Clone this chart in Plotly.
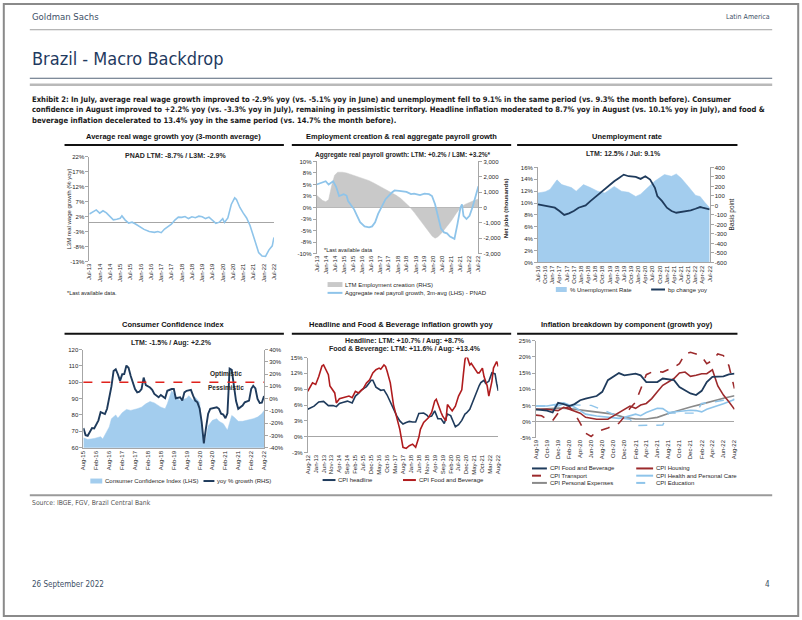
import plotly.graph_objects as go

W, H = 802, 620
CF = "Liberation Sans, Arial, Helvetica, sans-serif"
NF = "Liberation Sans Narrow, Arial Narrow, DejaVu Sans Condensed, sans-serif"

# ---------------- DATA ----------------
# Panel 1: average real wage growth (L3M, % yoy)
wage_dates = ["2013-07", "2013-09", "2013-11", "2014-01", "2014-03", "2014-05", "2014-07", "2014-09", "2014-11",
              "2015-01", "2015-02", "2015-04", "2015-06", "2015-08", "2015-10", "2015-12", "2016-03", "2016-06",
              "2016-09", "2016-11", "2017-01", "2017-03", "2017-05", "2017-07", "2017-09", "2017-11", "2018-01",
              "2018-03", "2018-05", "2018-07", "2018-09", "2018-11", "2019-01", "2019-03", "2019-05", "2019-07",
              "2019-09", "2019-11", "2020-01", "2020-02", "2020-04", "2020-06", "2020-08", "2020-09", "2020-11",
              "2021-01", "2021-03", "2021-05", "2021-07", "2021-09", "2021-10", "2021-12", "2022-02", "2022-04",
              "2022-06", "2022-07"]
wage_yoy = [2.8, 3.6, 4.2, 3.1, 3.9, 3.2, 2.0, 0.9, 1.1,
            1.4, 2.2, 0.8, -0.2, 0.1, -0.5, -1.3, -2.3, -3.0,
            -3.3, -3.0, -3.4, -2.2, -1.5, -0.6, 0.8, 1.8, 1.7,
            2.0, 1.3, 1.9, 1.6, 2.1, 1.9, 1.3, 1.8, 0.8,
            -0.3, 0.1, 1.3, 0.0, 1.5, 6.0, 8.2, 7.7, 5.0,
            3.1, 1.5, -1.0, -4.4, -7.9, -10.0, -11.2, -11.3, -9.2,
            -7.8, -5.0]
wage_tickvals = [-13, -8, -3, 2, 7, 12, 17, 22]
wage_ticktext = ["-13%", "-8%", "-3%", "2%", "7%", "12%", "17%", "22%"]

# Panel 2: employment creation (RHS, thousands) & aggregate real payroll growth (LHS, %)
jobs_dates = ["2013-07", "2013-09", "2013-11", "2014-01", "2014-03", "2014-05", "2014-07", "2014-09", "2014-12",
              "2015-03", "2015-06", "2015-09", "2015-12", "2016-03", "2016-06", "2016-09", "2016-12", "2017-03",
              "2017-06", "2017-09", "2017-12", "2018-03", "2018-06", "2018-09", "2018-12", "2019-03", "2019-06",
              "2019-09", "2019-12", "2020-02", "2020-04", "2020-07", "2020-10", "2021-01", "2021-04", "2021-07",
              "2021-10", "2022-01", "2022-04", "2022-07"]
jobs_ltm = [800, 600, 450, 380, 500, 1400, 2100, 2300, 2300,
            2250, 2150, 2080, 2000, 1900, 1750, 1600, 1450, 1300,
            1150, 950, 800, 600, 350, 50, -300, -700, -1100,
            -1500, -1850, -2000, -1900, -1600, -1250, -850, -400, 0,
            200, 350, 450, 550]
payroll_dates = ["2013-07", "2013-10", "2014-01", "2014-03", "2014-06", "2014-08", "2014-10", "2015-01", "2015-03",
                 "2015-04", "2015-06", "2015-08", "2015-10", "2015-12", "2016-03", "2016-06", "2016-08", "2016-10",
                 "2016-12", "2017-02", "2017-05", "2017-09", "2017-11", "2018-02", "2018-07", "2018-10", "2018-12",
                 "2019-04", "2019-07", "2019-10", "2019-12", "2020-02", "2020-04", "2020-06", "2020-08", "2020-10",
                 "2020-12", "2021-03", "2021-05", "2021-07", "2021-08", "2021-09", "2021-11", "2022-01", "2022-03",
                 "2022-05", "2022-07"]
payroll_growth = [5.0, 5.4, 5.7, 5.0, 5.7, 4.5, 2.5, 2.9, 2.6,
                  1.4, 0.5, -0.4, -1.8, -3.2, -4.1, -4.3, -4.1, -3.2,
                  -1.4, 0.0, 1.8, 3.2, 3.7, 3.6, 3.4, 2.9, 3.0,
                  2.7, 3.0, 2.9, 2.5, 0.7, -1.8, -4.6, -5.4, -5.6,
                  -6.3, -6.8, -3.6, 0.0, 0.7, -1.8, -2.5, -1.8, 0.0,
                  2.1, 4.6]
payroll_tickvals = [-10, -7.5, -5, -2.5, 0, 2.5, 5, 7.5, 10]
payroll_ticktext = ["-10%", "-8%", "-5%", "-3%", "0%", "3%", "5%", "8%", "10%"]
jobs_tickvals = [-3000, -2000, -1000, 0, 1000, 2000, 3000]
jobs_ticktext = ["-3,000", "-2,000", "-1,000", "0", "1,000", "2,000", "3,000"]

# Panel 3: unemployment rate (LHS, %) and bp change yoy (RHS)
unemp_dates = ["2016-07", "2016-10", "2016-12", "2017-03", "2017-05", "2017-07", "2017-09", "2017-11", "2018-02",
               "2018-05", "2018-08", "2018-11", "2019-03", "2019-06", "2019-09", "2019-12", "2020-02", "2020-05",
               "2020-08", "2020-12", "2021-03", "2021-05", "2021-07", "2021-10", "2022-01", "2022-02", "2022-03",
               "2022-05", "2022-07"]
unemp_rate = [11.7, 11.9, 12.3, 13.9, 13.1, 12.8, 12.6, 12.0, 13.1,
              12.6, 12.0, 11.7, 12.8, 12.0, 11.8, 11.1, 11.5, 12.6,
              13.7, 14.8, 14.5, 14.9, 14.2, 12.8, 11.3, 11.2, 11.1,
              10.1, 9.2]
bp_dates = ["2016-07", "2016-10", "2016-12", "2017-02", "2017-04", "2017-06", "2017-08", "2017-10", "2017-12",
            "2018-03", "2018-05", "2018-07", "2018-09", "2018-11", "2019-01", "2019-03", "2019-05", "2019-07",
            "2019-09", "2019-12", "2020-02", "2020-04", "2020-06", "2020-08", "2020-09", "2020-11", "2021-01",
            "2021-03", "2021-05", "2021-07", "2021-09", "2021-11", "2022-01", "2022-03", "2022-04", "2022-07"]
bp_change = [10, -7, -17, -24, -59, -100, -84, -59, -24,
             0, 45, 87, 132, 174, 220, 254, 289, 324,
             307, 300, 279, 307, 272, 185, 98, 45, -24,
             -59, -77, -70, -59, -52, -35, -17, -24, -42]
unemp_tickvals = [0, 2, 4, 6, 8, 10, 12, 14, 16]
unemp_ticktext = ["0%", "2%", "4%", "6%", "8%", "10%", "12%", "14%", "16%"]
bp_tickvals = [-600, -500, -400, -300, -200, -100, 0, 100, 200, 300, 400]
bp_ticktext = ["-600", "-500", "-400", "-300", "-200", "-100", "0", "100", "200", "300", "400"]

# Panel 4: consumer confidence index (LHS) and yoy % growth (RHS)
cc_idx_dates = ["2015-08", "2015-10", "2016-01", "2016-04", "2016-05", "2016-06", "2016-08", "2016-09", "2016-11",
                "2016-12", "2017-02", "2017-04", "2017-06", "2017-09", "2017-11", "2018-01", "2018-03", "2018-05",
                "2018-07", "2018-08", "2018-10", "2018-11", "2019-01", "2019-02", "2019-04", "2019-05", "2019-08",
                "2019-09", "2019-11", "2019-12", "2020-02", "2020-03", "2020-04", "2020-05", "2020-06", "2020-08",
                "2020-10", "2020-11", "2021-01", "2021-03", "2021-04", "2021-05", "2021-06", "2021-08", "2021-10",
                "2021-12", "2022-03", "2022-05", "2022-07", "2022-08"]
cc_idx = [66, 65, 65.6, 66.7, 65.3, 67.7, 72.7, 77.7, 80,
          78, 81.4, 83.4, 82.8, 83.8, 84.8, 86.8, 88.2, 87.4,
          85.8, 84.8, 83.8, 86.8, 94.8, 92.8, 89.8, 88.8, 90.2,
          91.8, 88.8, 90.8, 87.8, 75.7, 62, 65.6, 73.3, 76.7,
          77.7, 76.1, 74.7, 70.7, 75.7, 79.7, 78.7, 76.1, 76.1,
          76.7, 77.7, 78.7, 80.7, 82.8]
cc_yoy_dates = ["2015-08", "2015-09", "2015-10", "2015-11", "2015-12", "2016-01", "2016-03", "2016-04", "2016-05",
                "2016-06", "2016-07", "2016-08", "2016-09", "2016-10", "2016-11", "2016-12", "2017-01", "2017-02",
                "2017-03", "2017-04", "2017-05", "2017-06", "2017-08", "2017-09", "2017-10", "2017-11", "2017-12",
                "2018-01", "2018-03", "2018-04", "2018-05", "2018-07", "2018-08", "2018-10", "2018-11", "2019-01",
                "2019-02", "2019-03", "2019-05", "2019-06", "2019-07", "2019-08", "2019-10", "2019-11", "2019-12",
                "2020-01", "2020-02", "2020-03", "2020-04", "2020-05", "2020-06", "2020-07", "2020-08", "2020-10",
                "2020-11", "2020-12", "2021-01", "2021-02", "2021-03", "2021-04", "2021-05", "2021-06", "2021-07",
                "2021-08", "2021-09", "2021-10", "2021-11", "2021-12", "2022-01", "2022-02", "2022-03", "2022-04",
                "2022-05", "2022-06", "2022-07", "2022-08"]
cc_yoy = [-24, -29.8, -30.3, -27, -24, -24.4, -17.7, -11, -11.5,
          -12.6, -8.3, -0.3, 10, 22.5, 23.9, 19.9, 14.5, 19.9,
          20, 27, 25.2, 18.5, 7.8, 5.1, 5.6, 7.8, 17.2,
          11, 9.1, 7.2, 3.8, 1.1, 3, 0.3, 6.4, 7.8,
          7.8, 0.3, 1.1, -1.6, 5.1, 6.4, 7.2, 2.4, -1.6,
          -3, -8, -19, -36.5, -24, -12.3, -8.3, -8, -7,
          -8.3, -12.3, -13, -16, -12, 24.5, 23.5, 12, -2,
          -8.3, -7, -5.6, -3, -2.5, -1.6, 8, 10.5, 8.3,
          -0.3, -3.5, -3.3, 2.2]
confidence_threshold = 100
cc_tickvals = [60, 70, 80, 90, 100, 110, 120]
cc_ticktext = ["60", "70", "80", "90", "100", "110", "120"]
ccy_tickvals = [-40, -30, -20, -10, 0, 10, 20, 30, 40]
ccy_ticktext = ["-40%", "-30%", "-20%", "-10%", "0%", "10%", "20%", "30%", "40%"]

# Panel 5: CPI headline and CPI food & beverage (% yoy)
hl_dates = ["2012-08", "2012-10", "2012-12", "2013-03", "2013-06", "2013-09", "2013-12", "2014-02", "2014-04",
            "2014-06", "2014-09", "2014-12", "2015-02", "2015-04", "2015-06", "2015-09", "2015-12", "2016-01",
            "2016-03", "2016-06", "2016-08", "2016-10", "2016-12", "2017-02", "2017-04", "2017-06", "2017-08",
            "2017-10", "2017-12", "2018-02", "2018-04", "2018-06", "2018-09", "2018-11", "2018-12", "2019-02",
            "2019-04", "2019-06", "2019-08", "2019-10", "2019-12", "2020-02", "2020-04", "2020-05", "2020-07",
            "2020-09", "2020-11", "2020-12", "2021-02", "2021-04", "2021-06", "2021-08", "2021-09", "2021-11",
            "2021-12", "2022-02", "2022-04", "2022-06", "2022-07", "2022-08"]
hl_cpi = [5.2, 5.5, 5.8, 6.6, 6.7, 5.9, 5.9, 5.7, 6.3,
          6.5, 6.75, 6.4, 7.7, 8.2, 8.9, 9.5, 10.7, 10.7,
          9.4, 8.8, 8.9, 7.9, 6.5, 5.0, 4.0, 3.0, 2.4,
          2.7, 2.9, 2.8, 2.8, 4.4, 4.5, 4.1, 3.75, 3.9,
          4.9, 3.4, 3.4, 2.5, 4.3, 4.0, 2.4, 1.9, 2.3,
          3.1, 4.3, 4.5, 5.2, 6.8, 8.3, 9.7, 10.25, 10.7,
          10.1, 10.5, 12.1, 11.9, 10.1, 8.7]
fb_dates = ["2012-08", "2012-11", "2013-01", "2013-03", "2013-05", "2013-06", "2013-09", "2013-10", "2014-01",
            "2014-02", "2014-04", "2014-07", "2014-10", "2014-12", "2015-02", "2015-04", "2015-07", "2015-09",
            "2015-11", "2016-01", "2016-03", "2016-05", "2016-06", "2016-08", "2016-09", "2016-10", "2016-12",
            "2017-02", "2017-04", "2017-06", "2017-08", "2017-10", "2017-12", "2018-02", "2018-04", "2018-06",
            "2018-07", "2018-09", "2018-12", "2019-02", "2019-04", "2019-05", "2019-08", "2019-09", "2019-11",
            "2019-12", "2020-03", "2020-05", "2020-07", "2020-09", "2020-10", "2020-11", "2020-12", "2021-02",
            "2021-03", "2021-05", "2021-07", "2021-08", "2021-10", "2021-11", "2022-01", "2022-02", "2022-04",
            "2022-05", "2022-07", "2022-08"]
fb_cpi = [8.6, 10.2, 9.9, 11.4, 13.4, 13.6, 11.75, 9.6, 8.3,
          6.4, 7.2, 7.4, 7.7, 7.4, 8.6, 8.3, 9.1, 10.2,
          10.8, 12.1, 12.7, 13.0, 12.8, 13.6, 13.3, 12.4, 10.2,
          6.0, 3.5, 1.4, -2.0, -2.2, -1.7, -1.4, -2.0, -0.1,
          1.4, 2.7, 3.6, 4.6, 6.75, 7.1, 4.6, 3.9, 3.0,
          6.1, 4.9, 5.8, 7.7, 8.9, 11.75, 14.6, 15.5, 13.6,
          13.9, 13.0, 12.1, 12.1, 13.0, 11.4, 9.6, 7.7, 10.5,
          13.0, 14.25, 13.3]
cpi_tickvals = [-3, 0, 3, 6, 9, 12, 15]
cpi_ticktext = ["-3%", "0%", "3%", "6%", "9%", "12%", "15%"]

# Panel 6: inflation breakdown by component (% yoy)
fnb_dates = ["2019-08", "2019-10", "2019-11", "2019-12", "2020-01", "2020-02", "2020-03", "2020-04", "2020-05",
             "2020-07", "2020-08", "2020-09", "2020-11", "2020-12", "2021-02", "2021-03", "2021-04", "2021-06",
             "2021-07", "2021-09", "2021-10", "2021-12", "2022-01", "2022-02", "2022-03", "2022-04", "2022-06",
             "2022-07", "2022-08"]
fnb_vals = [3.8, 3.4, 2.8, 5.8, 5.4, 4.8, 5.4, 6.6, 7.1,
            7.9, 9.2, 12.8, 15.0, 14.3, 14.8, 14.3, 12.2, 12.2,
            13.3, 12.8, 10.7, 8.7, 8.2, 9.5, 12.2, 13.8, 14.0,
            14.6, 14.8]
hous_dates = ["2019-08", "2019-10", "2019-12", "2020-01", "2020-02", "2020-04", "2020-05", "2020-07", "2020-09",
              "2020-10", "2020-11", "2020-12", "2021-01", "2021-02", "2021-03", "2021-04", "2021-05", "2021-06",
              "2021-07", "2021-09", "2021-10", "2021-11", "2021-12", "2022-01", "2022-02", "2022-03", "2022-04",
              "2022-05", "2022-06", "2022-07", "2022-08"]
hous_vals = [3.8, 3.8, 3.4, 4.4, 3.8, 2.6, 1.3, 0.7, 0.7,
             1.7, 2.6, 3.8, 4.8, 4.1, 5.1, 5.6, 7.1, 9.2,
             11.2, 13.3, 15.0, 15.3, 14.0, 14.3, 14.8, 14.8, 16.0,
             11.0, 8.2, 6.1, 3.8]
tr_dates = ["2019-08", "2019-09", "2019-10", "2019-11", "2019-12", "2020-01", "2020-02", "2020-03", "2020-04",
            "2020-05", "2020-06", "2020-07", "2020-09", "2020-10", "2020-11", "2020-12", "2021-01", "2021-02",
            "2021-03", "2021-04", "2021-05", "2021-06", "2021-07", "2021-09", "2021-10", "2021-11", "2021-12",
            "2022-01", "2022-02", "2022-03", "2022-04", "2022-05", "2022-06", "2022-07", "2022-08"]
tr_vals = [2.0, 1.8, 0.7, 0.3, 2.6, 4.1, 4.6, 2.6, -0.5,
           -3.6, -4.6, -3.1, -2.0, -1.2, -0.5, 1.5, 4.1, 6.0,
           10.0, 14.5, 15.3, 15.5, 15.3, 16.8, 17.9, 20.9, 21.4,
           20.9, 20.1, 17.9, 18.9, 20.9, 20.4, 17.3, 10.2]
hpc_dates = ["2019-08", "2019-10", "2019-12", "2020-01", "2020-02", "2020-03", "2020-04", "2020-05", "2020-07",
             "2020-09", "2020-11", "2020-12", "2021-01", "2021-02", "2021-03", "2021-04", "2021-06", "2021-07",
             "2021-08", "2021-09", "2021-11", "2021-12", "2022-01", "2022-02", "2022-03", "2022-04", "2022-06",
             "2022-08"]
hpc_vals = [4.8, 4.8, 5.4, 5.8, 5.1, 4.4, 3.4, 2.3, 1.7,
            1.3, 1.0, 1.3, 1.7, 2.3, 1.8, 2.8, 4.1, 4.0,
            2.8, 3.0, 3.3, 3.5, 3.4, 3.0, 3.8, 4.3, 5.5,
            6.8]
pe_dates = ["2019-08", "2019-12", "2020-02", "2020-04", "2020-06", "2020-08", "2020-10", "2020-12", "2021-02",
            "2021-04", "2021-06", "2021-08", "2021-10", "2021-12", "2022-02", "2022-04", "2022-06", "2022-08"]
pe_vals = [3.7, 4.2, 4.0, 3.6, 3.0, 2.6, 2.3, 1.3, 0.8,
           0.8, 1.3, 2.5, 3.6, 4.5, 5.4, 6.4, 7.2, 8.0]
edu_dates = ["2019-08", "2019-12", "2020-01", "2020-02", "2020-06", "2020-07", "2020-09", "2020-11", "2020-12",
             "2021-01", "2021-02", "2021-07", "2021-08", "2022-01", "2022-02", "2022-04", "2022-06", "2022-08"]
edu_vals = [4.8, 4.8, 5.4, 5.2, 5.0, 4.3, 3.0, 1.5, 0.9,
            0.7, -1.2, -1.1, 2.6, 2.6, 5.6, 6.0, 6.6, 6.9]
comp_tickvals = [-5, 0, 5, 10, 15, 20, 25]
comp_ticktext = ["-5%", "0%", "5%", "10%", "15%", "20%", "25%"]

# ---------------- STYLE ----------------
NAVY = "#1f3b5c"
LIGHT = "#8ec4ea"
AREA_BLUE = "#a3cdee"
GRAY_AREA = "#c9c9c9"
RED = "#b01c1e"
DRED = "#9c2a2c"
PGRAY = "#8a8a8a"
TXT = "#262626"
AXC = "#a6a6a6"


def X(p):
    return p / W


def Y(p):
    return 1 - p / H


fig = go.Figure()


def line_trace(x, y, xa, ya, color, width=1.6, dash="solid", fill=None, fillcolor=None):
    fig.add_trace(go.Scatter(x=x, y=y, mode="lines", xaxis=xa, yaxis=ya, fill=fill, fillcolor=fillcolor,
                             line=dict(color=color, width=width, dash=dash), hoverinfo="skip"))


# Panel 1
line_trace(wage_dates, wage_yoy, "x", "y", LIGHT, 1.6)
# Panel 2
line_trace(jobs_dates, jobs_ltm, "x2", "y2", GRAY_AREA, 0.5, fill="tozeroy", fillcolor=GRAY_AREA)
line_trace(payroll_dates, payroll_growth, "x2", "y3", LIGHT, 1.8)
# Panel 3
line_trace(unemp_dates, unemp_rate, "x3", "y4", AREA_BLUE, 0.5, fill="tozeroy", fillcolor=AREA_BLUE)
line_trace(bp_dates, bp_change, "x3", "y5", NAVY, 1.8)
# Panel 4
line_trace(cc_idx_dates, cc_idx, "x4", "y6", AREA_BLUE, 0.5, fill="tozeroy", fillcolor=AREA_BLUE)
line_trace(cc_yoy_dates, cc_yoy, "x4", "y7", NAVY, 1.9)
# Panel 5
line_trace(hl_dates, hl_cpi, "x5", "y8", NAVY, 1.6)
line_trace(fb_dates, fb_cpi, "x5", "y8", RED, 1.6)
# Panel 6
line_trace(pe_dates, pe_vals, "x6", "y9", PGRAY, 1.6)
line_trace(edu_dates, edu_vals, "x6", "y9", LIGHT, 1.4, dash="dash")
line_trace(hpc_dates, hpc_vals, "x6", "y9", LIGHT, 1.6)
line_trace(hous_dates, hous_vals, "x6", "y9", DRED, 1.6)
line_trace(tr_dates, tr_vals, "x6", "y9", DRED, 1.6, dash="dash")
line_trace(fnb_dates, fnb_vals, "x6", "y9", NAVY, 1.8)

axfont = dict(family=CF, size=6, color=TXT)


def xax(d0, d1, anchor, r0, r1, dtick, showline=False):
    return dict(domain=[X(d0), X(d1)], anchor=anchor, type="date", range=[r0, r1], dtick=dtick, tick0=r0,
                tickformat="%b-%y", tickangle=-90, tickfont=axfont, showgrid=False, zeroline=False,
                showline=showline, linecolor=AXC, linewidth=0.8, ticks="", fixedrange=True)


def yax(top, bottom, rng, tv, tt, side="left", anchor=None, overlaying=None, zeroline=False):
    d = dict(range=rng, tickvals=tv, ticktext=tt, side=side, anchor=anchor, tickfont=axfont, showgrid=False,
             showline=True, linecolor=AXC, linewidth=0.8, ticks="outside", ticklen=3, tickwidth=0.8,
             tickcolor=AXC, zeroline=zeroline, zerolinecolor=AXC, zerolinewidth=0.8, fixedrange=True)
    if overlaying:
        d["overlaying"] = overlaying
    else:
        d["domain"] = [Y(bottom), Y(top)]
    return d


layout_axes = dict(
    xaxis=xax(87, 273, "y", "2013-07-01", "2022-07-01", "M6"),
    yaxis=yax(155, 261, [-13, 22], wage_tickvals, wage_ticktext, anchor="x", zeroline=True),
    xaxis2=xax(316, 479, "y2", "2013-07-01", "2022-07-01", "M6"),
    yaxis2=yax(160, 253, [-3000, 3000], jobs_tickvals, jobs_ticktext, side="right", anchor="x2", zeroline=True),
    yaxis3=yax(160, 253, [-10, 10], payroll_tickvals, payroll_ticktext, side="left", anchor="x2", overlaying="y2"),
    xaxis3=xax(539, 712, "y4", "2016-07-01", "2022-07-01", "M3", showline=True),
    yaxis4=yax(166, 262, [0, 16], unemp_tickvals, unemp_ticktext, anchor="x3"),
    yaxis5=yax(166, 262, [-600, 400], bp_tickvals, bp_ticktext, side="right", anchor="x3", overlaying="y4"),
    xaxis4=xax(81, 263, "y6", "2015-08-01", "2022-08-01", "M6", showline=True),
    yaxis6=yax(350, 449, [60, 120], cc_tickvals, cc_ticktext, anchor="x4"),
    yaxis7=yax(350, 449, [-40, 40], ccy_tickvals, ccy_ticktext, side="right", anchor="x4", overlaying="y6"),
    xaxis5=xax(307, 499, "y8", "2012-08-01", "2022-08-01", "M5"),
    yaxis8=yax(358, 454, [-3, 15], cpi_tickvals, cpi_ticktext, anchor="x5", zeroline=True),
    xaxis6=xax(537, 737, "y9", "2019-08-01", "2022-08-01", "M2"),
    yaxis9=yax(341, 439, [-5, 25], comp_tickvals, comp_ticktext, anchor="x6", zeroline=True),
)

shapes = []
annotations = []


def hline(x0, x1, y, color, width=1.0, dash="solid"):
    shapes.append(dict(type="line", xref="paper", yref="paper", x0=X(x0), x1=X(x1), y0=Y(y), y1=Y(y),
                       line=dict(color=color, width=width, dash=dash)))


def rect(x0, x1, y, color, h=5):
    shapes.append(dict(type="rect", xref="paper", yref="paper", x0=X(x0), x1=X(x1), y0=Y(y + h / 2),
                       y1=Y(y - h / 2), fillcolor=color, line=dict(width=0)))


def text(x, y, s, size, color=TXT, bold=False, xanchor="left", family=CF, angle=0):
    if bold:
        s = "<b>" + s + "</b>"
    annotations.append(dict(x=X(x), y=Y(y), xref="paper", yref="paper", text=s, showarrow=False,
                            xanchor=xanchor, yanchor="middle", textangle=angle,
                            font=dict(size=size, color=color, family=family)))


# Page frame and header
shapes.append(dict(type="rect", xref="paper", yref="paper", x0=0.001, x1=0.999, y0=0.0015, y1=0.9985,
                   line=dict(color="#8a8a8a", width=2), fillcolor="rgba(0,0,0,0)"))
text(27, 14, "Goldman Sachs", 9.5, color="#3d4f66", family=NF)
text(775, 14, "Latin America", 7, color="#3d4f66", family=NF, xanchor="right")
hline(27, 775, 27, "#a0a0a0", 1)
text(27, 56, "Brazil - Macro Backdrop", 18, color="#1f3a5f", family=NF)
hline(27, 775, 76, "#56667a", 1)
hline(27, 775, 82.5, "#b9b9b9", 2.5)
exhibit_lines = [
    "Exhibit 2: In July, average real wage growth improved to -2.9% yoy (vs. -5.1% yoy in June) and unemployment fell to 9.1% in the same period (vs. 9.3% the month before). Consumer",
    "confidence in August improved to +2.2% yoy (vs. -3.3% yoy in July), remaining in pessimistic territory. Headline inflation moderated to 8.7% yoy in August (vs. 10.1% yoy in July), and food &amp;",
    "beverage inflation decelerated to 13.4% yoy in the same period (vs. 14.7% the month before).",
]
for i, ln in enumerate(exhibit_lines):
    text(27, 97 + i * 11, ln, 7.6, color="#1a1a1a", bold=True, family=NF)

# Panel titles and underlines
titles = [
    (172, 135, "Average real wage growth yoy (3-month average)", 62, 283, 143.5),
    (401, 135, "Employment creation &amp; real aggregate payroll growth", 291, 512, 143.5),
    (629, 135, "Unemployment rate", 518, 740, 143.5),
    (172, 324.5, "Consumer Confidence index", 62, 283, 334),
    (401, 324.5, "Headline and Food &amp; Beverage inflation growth yoy", 291, 512, 334),
    (629, 324.5, "Inflation breakdown by component (growth yoy)", 518, 740, 334),
]
for cx, cy, t, lx0, lx1, ly in titles:
    text(cx, cy, t, 7.5, color="#111", bold=True, xanchor="center")
    hline(lx0, lx1, ly, "#111", 2)

# Subtitles
text(174, 154.3, "PNAD LTM: -8.7% / L3M: -2.9%", 7, bold=True, xanchor="center")
text(403, 153.3, "Aggregate real payroll growth: LTM: +0.2% / L3M: +3.2%*", 6.5, bold=True, xanchor="center")
text(625, 151.7, "LTM: 12.5% / Jul: 9.1%", 7, bold=True, xanchor="center")
text(170, 343.3, "LTM: -1.5% / Aug: +2.2%", 7, bold=True, xanchor="center")
text(405, 341, "Headline: LTM: +10.7% / Aug: +8.7%", 7, bold=True, xanchor="center")
text(405, 349.5, "Food &amp; Beverage: LTM: +11.6% / Aug: +13.4%", 7, bold=True, xanchor="center")

# Axis titles
text(66, 208, "L3M real wage growth (% yoy)", 6, angle=-90, xanchor="center")
text(507, 207, "Net jobs (thousands)", 6, bold=True, angle=-90, xanchor="center")
text(734, 214, "Basis point", 6.5, angle=-90, xanchor="center")

# Footnotes
text(62, 293, "*Last available data.", 5.5)
text(321, 249.5, "*Last available data", 5.5)

# Panel 4 threshold line and labels
shapes.append(dict(type="line", xref="x4 domain", yref="y6", x0=0, x1=1, y0=confidence_threshold,
                   y1=confidence_threshold, line=dict(color="#e0231d", width=1.6, dash="dash"), layer="above"))
text(225, 375, "Optimistic", 6.5, bold=True, xanchor="center")
text(225, 388, "Pessimistic", 6.5, bold=True, xanchor="center")

# Legends
LF = 6
rect(327, 342, 284.3, GRAY_AREA, 5)
text(343, 284.3, "LTM Employment creation (RHS)", LF)
hline(327, 342, 292.7, LIGHT, 2)
text(343, 292.7, "Aggregate real payroll growth, 3m-avg (LHS) - PNAD", LF)

rect(557, 568, 289.3, AREA_BLUE, 5)
text(569, 289.3, "% Unemployment Rate", LF)
hline(653, 667, 289.3, NAVY, 2)
text(668, 289.3, "bp change yoy", LF)

rect(88, 100, 482.7, AREA_BLUE, 5)
text(101, 482.7, "Consumer Confidence Index (LHS)", LF)
hline(202, 213, 482.7, NAVY, 2)
text(214, 482.7, "yoy % growth (RHS)", LF)

hline(322, 335, 481.7, NAVY, 2)
text(336, 481.7, "CPI headline", LF)
hline(403, 416, 481.7, RED, 2)
text(417, 481.7, "CPI Food and Beverage", LF)

hline(533, 548, 470, NAVY, 2)
text(549, 470, "CPI Food and Beverage", LF)
hline(638, 655, 470, DRED, 2)
text(656, 470, "CPI Housing", LF)
hline(533, 548, 477.3, DRED, 2, "dash")
text(549, 477.3, "CPI Transport", LF)
hline(638, 655, 477.3, LIGHT, 2)
text(656, 477.3, "CPI Health and Personal Care", LF)
hline(533, 548, 484.6, PGRAY, 2)
text(549, 484.6, "CPI Personal Expenses", LF)
hline(638, 655, 484.6, LIGHT, 2, "dash")
text(656, 484.6, "CPI Education", LF)

# Footer
hline(27, 775, 497, "#9a9a9a", 2)
text(27, 505, "Source: IBGE, FGV, Brazil Central Bank", 6.8, color="#555", family=NF)
text(27, 587, "26 September 2022", 8, color="#3d4f66", family=NF)
text(775, 587, "4", 8, color="#3d4f66", family=NF, xanchor="right")

fig.update_layout(
    width=W, height=H, margin=dict(l=0, r=0, t=0, b=0),
    paper_bgcolor="white", plot_bgcolor="white", showlegend=False,
    font=dict(family=CF, size=6, color=TXT),
    shapes=shapes, annotations=annotations,
    **layout_axes,
)

# remove the browser's default 8px body margin so the figure sits at the page origin
fig.write_html("out.html", config={"displayModeBar": False},
               post_script="document.body.style.margin='0';document.body.style.overflow='hidden';")
